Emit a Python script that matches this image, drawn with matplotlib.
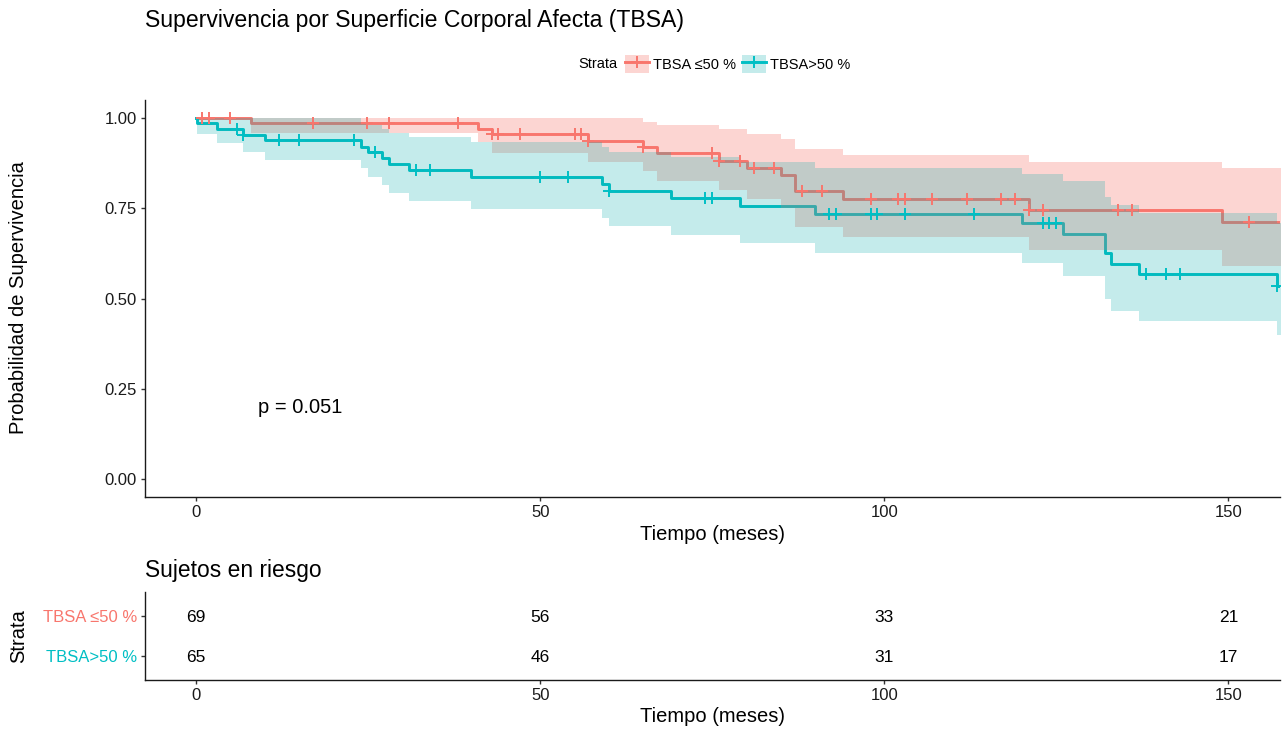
import numpy as np
import matplotlib.pyplot as plt
from matplotlib.patches import Patch
from matplotlib.lines import Line2D
from matplotlib.legend_handler import HandlerTuple

plt.rcParams['font.family'] = ['Liberation Sans', 'DejaVu Sans']

RED = '#F8766D'
TEAL = '#00BFC4'
TEAL_BAND = '#09ACAC'   # ribbon tint that gives the light teal seen in the picture

strata = ['TBSA \u226450 %', 'TBSA>50 %']

# Kaplan-Meier steps (time in months, survival)
red_time = [0, 8, 41, 43, 57, 65, 67, 76, 80, 85, 87, 94, 121, 149]
red_surv = [1.0, 0.986, 0.971, 0.955, 0.937, 0.919, 0.902, 0.882, 0.862, 0.842, 0.799, 0.775, 0.746, 0.712]
red_upper = [1.0, 1.0, 1.0, 1.0, 1.0, 0.99, 0.981, 0.969, 0.956, 0.942, 0.913, 0.898, 0.879, 0.861]
red_lower = [1.0, 0.958, 0.934, 0.904, 0.877, 0.853, 0.825, 0.801, 0.775, 0.75, 0.697, 0.670, 0.634, 0.590]
red_censor = [0.9, 1.9, 4.9, 17, 24.9, 28, 38, 43, 43.9, 47, 55, 56, 57, 65, 75, 76, 79, 81, 84,
              88, 91, 98, 102, 103, 107, 112, 117, 119, 121, 123, 134, 136, 153]

teal_time = [0, 0.2, 3, 6.8, 10, 24, 25, 27, 28, 31, 40, 59, 60, 69, 79, 90, 120, 126, 132, 133, 137, 157]
teal_surv = [1.0, 0.985, 0.970, 0.954, 0.939, 0.921, 0.907, 0.888, 0.872, 0.856, 0.837, 0.818,
             0.798, 0.778, 0.756, 0.734, 0.709, 0.680, 0.625, 0.596, 0.567, 0.535]
teal_upper = [1.0, 1.0, 1.0, 1.0, 1.0, 0.985, 0.98, 0.97, 0.958, 0.948, 0.934, 0.92, 0.907, 0.893,
              0.879, 0.862, 0.844, 0.825, 0.782, 0.759, 0.738, 0.71]
teal_lower = [1.0, 0.955, 0.930, 0.907, 0.884, 0.861, 0.837, 0.814, 0.791, 0.770, 0.748, 0.722,
              0.700, 0.676, 0.653, 0.627, 0.597, 0.563, 0.498, 0.466, 0.438, 0.40]
teal_censor = [5.9, 6.8, 12, 15, 23, 26, 32, 34, 50, 54, 60, 74, 75, 92, 93, 98, 99, 103, 113,
               123, 124, 125, 138, 141, 143, 157]

risk_times = [0, 50, 100, 150]
risk_red = [69, 56, 33, 21]
risk_teal = [65, 46, 31, 17]

t_end = 162  # curves run past the visible window and get clipped

W, H = 1283, 729
fig = plt.figure(figsize=(W / 100, H / 100), dpi=100)
ax = fig.add_axes([144.5 / W, 1 - 497 / H, (1280 - 144.5) / W, (497 - 100) / H])
axr = fig.add_axes([144.5 / W, 1 - 680 / H, (1280 - 144.5) / W, (680 - 592) / H])


def extend(t, v):
    return list(t) + [t_end], list(v) + [v[-1]]


def surv_at(times, surv, x):
    idx = np.searchsorted(times, x, side='right') - 1
    return np.array(surv)[idx]


# lines first, ribbons on top (like survminer), censor marks last
tt, ss = extend(red_time, red_surv)
ax.step(tt, ss, where='post', color=RED, lw=2.1, zorder=2)
tt, ss = extend(teal_time, teal_surv)
ax.step(tt, ss, where='post', color=TEAL, lw=2.1, zorder=2)

tt, lo = extend(red_time, red_lower)
_, hi = extend(red_time, red_upper)
ax.fill_between(tt, lo, hi, step='post', color=RED, alpha=0.3, lw=0, zorder=3)
tt, lo = extend(teal_time, teal_lower)
_, hi = extend(teal_time, teal_upper)
ax.fill_between(tt, lo, hi, step='post', color=TEAL_BAND, alpha=0.24, lw=0, zorder=4)

ax.plot(red_censor, surv_at(red_time, red_surv, red_censor), ls='none', marker='+',
        ms=9, mew=1.4, color=RED, zorder=5)
ax.plot(teal_censor, surv_at(teal_time, teal_surv, teal_censor), ls='none', marker='+',
        ms=9, mew=1.4, color=TEAL, zorder=5)

ax.text(15.1, 0.197, 'p = 0.051', ha='center', va='center', fontsize=14.5, color='black')

xlim = (-7.5, 157.5)
ax.set_xlim(*xlim)
ax.set_ylim(-0.05, 1.05)
ax.set_xticks([0, 50, 100, 150])
ax.set_yticks([0, 0.25, 0.5, 0.75, 1.0])
ax.set_yticklabels(['0.00', '0.25', '0.50', '0.75', '1.00'])

for a in (ax, axr):
    for side in ('top', 'right'):
        a.spines[side].set_visible(False)
    for side in ('left', 'bottom'):
        a.spines[side].set_linewidth(1.0)
        a.spines[side].set_color('#1a1a1a')
    a.tick_params(length=3, width=1.0, color='#333333', labelsize=12, labelcolor='#1a1a1a', pad=2.5)
    a.set_facecolor('white')

# risk table
axr.set_xlim(*xlim)
axr.set_ylim(0.4, 2.6)
axr.set_xticks([0, 50, 100, 150])
axr.set_yticks([2, 1])
axr.set_yticklabels(strata)
for lab, c in zip(axr.get_yticklabels(), [RED, TEAL]):
    lab.set_color(c)
for t, a, b in zip(risk_times, risk_red, risk_teal):
    axr.text(t, 2, str(a), ha='center', va='center_baseline', fontsize=12.5, color='black')
    axr.text(t, 1, str(b), ha='center', va='center_baseline', fontsize=12.5, color='black')

# titles and labels
fig.text(145 / W, 1 - 20 / H, 'Supervivencia por Superficie Corporal Afecta (TBSA)',
         ha='left', va='center', fontsize=16.6, color='black')
fig.text(145 / W, 1 - 571 / H, 'Sujetos en riesgo', ha='left', va='center', fontsize=16.4, color='black')
fig.text(19 / W, 1 - 298 / H, 'Probabilidad de Supervivencia', rotation=90, ha='center', va='center',
         fontsize=14.5, color='black')
fig.text(19 / W, 1 - 636 / H, 'Strata', rotation=90, ha='center', va='center', fontsize=14.5, color='black')
fig.text(712 / W, 1 - 535 / H, 'Tiempo (meses)', ha='center', va='center', fontsize=14.5, color='black')
fig.text(712 / W, 1 - 717 / H, 'Tiempo (meses)', ha='center', va='center', fontsize=14.5, color='black')

# legend on top
fig.text(578 / W, 1 - 64 / H, 'Strata', ha='left', va='center', fontsize=10.5, color='black')
handles = [
    (Patch(facecolor=RED, alpha=0.3, lw=0), Line2D([], [], color=RED, lw=2.1, marker='+', ms=9, mew=1.4)),
    (Patch(facecolor=TEAL_BAND, alpha=0.24, lw=0), Line2D([], [], color=TEAL, lw=2.1, marker='+', ms=9, mew=1.4)),
]
fig.legend(handles, strata, handler_map={tuple: HandlerTuple(ndivide=1)}, loc='center left',
           bbox_to_anchor=(625 / W, 1 - 64 / H), ncol=2, frameon=False, fontsize=10.5,
           handlelength=1.65, handleheight=1.6, handletextpad=0.3, columnspacing=0.35, borderpad=0,
           borderaxespad=0)

fig.savefig('out.png', dpi=100, facecolor='white')
